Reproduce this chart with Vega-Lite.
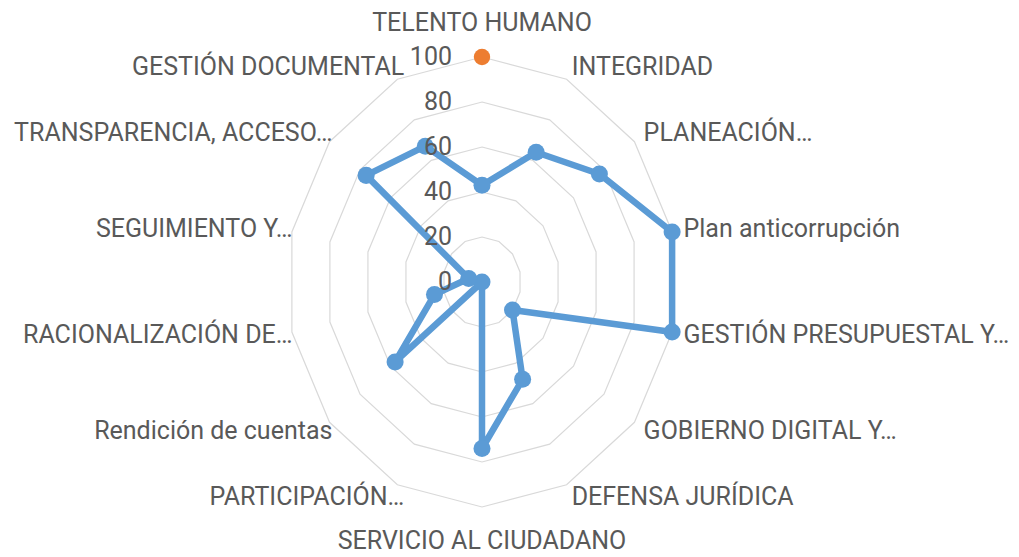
{
  "$schema": "https://vega.github.io/schema/vega-lite/v6.json",
  "width": 390,
  "height": 450,
  "autosize": {"type": "none"},
  "padding": {"left": 287, "top": 57, "right": 342, "bottom": 50},
  "background": "white",
  "config": {"view": {"stroke": null}},
  "datasets": {
    "puntajes": [
      {"eje": "TELENTO HUMANO", "valor": 43},
      {"eje": "INTEGRIDAD", "valor": 64},
      {"eje": "PLANEACIÓN…", "valor": 77},
      {"eje": "Plan anticorrupción", "valor": 100},
      {"eje": "GESTIÓN PRESUPUESTAL Y…", "valor": 100},
      {"eje": "GOBIERNO DIGITAL Y…", "valor": 20},
      {"eje": "DEFENSA JURÍDICA", "valor": 48},
      {"eje": "SERVICIO AL CIUDADANO", "valor": 74},
      {"eje": "PARTICIPACIÓN…", "valor": 0},
      {"eje": "Rendición de cuentas", "valor": 57},
      {"eje": "RACIONALIZACIÓN DE…", "valor": 25},
      {"eje": "SEGUIMIENTO Y…", "valor": 7},
      {"eje": "TRANSPARENCIA, ACCESO…", "valor": 76},
      {"eje": "GESTIÓN DOCUMENTAL", "valor": 67}
    ],
    "meta": [
      {"eje": "TELENTO HUMANO", "valor": 100}
    ],
    "rejilla": [
      {"eje": "TELENTO HUMANO", "niveles": [20, 40, 60, 80, 100]},
      {"eje": "INTEGRIDAD", "niveles": [20, 40, 60, 80, 100]},
      {"eje": "PLANEACIÓN…", "niveles": [20, 40, 60, 80, 100]},
      {"eje": "Plan anticorrupción", "niveles": [20, 40, 60, 80, 100]},
      {"eje": "GESTIÓN PRESUPUESTAL Y…", "niveles": [20, 40, 60, 80, 100]},
      {"eje": "GOBIERNO DIGITAL Y…", "niveles": [20, 40, 60, 80, 100]},
      {"eje": "DEFENSA JURÍDICA", "niveles": [20, 40, 60, 80, 100]},
      {"eje": "SERVICIO AL CIUDADANO", "niveles": [20, 40, 60, 80, 100]},
      {"eje": "PARTICIPACIÓN…", "niveles": [20, 40, 60, 80, 100]},
      {"eje": "Rendición de cuentas", "niveles": [20, 40, 60, 80, 100]},
      {"eje": "RACIONALIZACIÓN DE…", "niveles": [20, 40, 60, 80, 100]},
      {"eje": "SEGUIMIENTO Y…", "niveles": [20, 40, 60, 80, 100]},
      {"eje": "TRANSPARENCIA, ACCESO…", "niveles": [20, 40, 60, 80, 100]},
      {"eje": "GESTIÓN DOCUMENTAL", "niveles": [20, 40, 60, 80, 100]}
    ],
    "escala": [
      {"v": 0}, {"v": 20}, {"v": 40}, {"v": 60}, {"v": 80}, {"v": 100}
    ]
  },
  "layer": [
    {
      "data": {"name": "rejilla"},
      "transform": [
        {"window": [{"op": "row_number", "as": "n"}]},
        {"flatten": ["niveles"], "as": ["nivel"]},
        {"calculate": "2*PI*(datum.n-1)/14", "as": "ang"},
        {"calculate": "datum.nivel*sin(datum.ang)", "as": "px"},
        {"calculate": "datum.nivel*cos(datum.ang)", "as": "py"}
      ],
      "mark": {"type": "line", "interpolate": "linear-closed", "color": "#d9d9d9", "strokeWidth": 1.2},
      "encoding": {
        "x": {"field": "px", "type": "quantitative", "scale": {"domain": [-100, 100], "nice": false, "zero": false}, "axis": null},
        "y": {"field": "py", "type": "quantitative", "scale": {"domain": [-100, 100], "nice": false, "zero": false}, "axis": null},
        "detail": {"field": "nivel", "type": "nominal"},
        "order": {"field": "n", "type": "quantitative"}
      }
    },
    {
      "data": {"name": "puntajes"},
      "transform": [
        {"window": [{"op": "row_number", "as": "n"}]},
        {"calculate": "2*PI*(datum.n-1)/14", "as": "ang"},
        {"calculate": "datum.valor*sin(datum.ang)", "as": "px"},
        {"calculate": "datum.valor*cos(datum.ang)", "as": "py"}
      ],
      "layer": [
        {
          "mark": {"type": "line", "interpolate": "linear-closed", "color": "#5B9BD5", "strokeWidth": 6.5, "strokeJoin": "round"},
          "encoding": {
            "x": {"field": "px", "type": "quantitative"},
            "y": {"field": "py", "type": "quantitative"},
            "order": {"field": "n", "type": "quantitative"}
          }
        },
        {
          "mark": {"type": "circle", "color": "#5B9BD5", "size": 290, "opacity": 1},
          "encoding": {
            "x": {"field": "px", "type": "quantitative"},
            "y": {"field": "py", "type": "quantitative"}
          }
        }
      ]
    },
    {
      "data": {"name": "meta"},
      "transform": [
        {"window": [{"op": "row_number", "as": "n"}]},
        {"calculate": "2*PI*(datum.n-1)/14", "as": "ang"},
        {"calculate": "datum.valor*sin(datum.ang)", "as": "px"},
        {"calculate": "datum.valor*cos(datum.ang)", "as": "py"}
      ],
      "mark": {"type": "circle", "color": "#ED7D31", "size": 270, "opacity": 1},
      "encoding": {
        "x": {"field": "px", "type": "quantitative"},
        "y": {"field": "py", "type": "quantitative"}
      }
    },
    {
      "data": {"name": "escala"},
      "mark": {"type": "text", "align": "right", "baseline": "middle", "dx": -30, "font": "Roboto", "fontSize": 25, "color": "#595959"},
      "encoding": {
        "x": {"datum": 0, "type": "quantitative"},
        "y": {"field": "v", "type": "quantitative"},
        "text": {"field": "v", "type": "quantitative"}
      }
    },
    {
      "data": {"name": "puntajes"},
      "transform": [
        {"window": [{"op": "row_number", "as": "n"}]},
        {"calculate": "2*PI*(datum.n-1)/14", "as": "ang"},
        {"calculate": "(datum.n==1 || datum.n==8) ? 115 : 106", "as": "lr"},
        {"calculate": "datum.lr*sin(datum.ang)", "as": "px"},
        {"calculate": "datum.lr*cos(datum.ang)", "as": "py"}
      ],
      "layer": [
        {
          "transform": [{"filter": "datum.n==1 || datum.n==8"}],
          "mark": {"type": "text", "align": "center", "baseline": "middle", "font": "Roboto", "fontSize": 25, "color": "#595959"},
          "encoding": {
            "x": {"field": "px", "type": "quantitative"},
            "y": {"field": "py", "type": "quantitative"},
            "text": {"field": "eje", "type": "nominal"}
          }
        },
        {
          "transform": [{"filter": "datum.n>=2 && datum.n<=7"}],
          "mark": {"type": "text", "align": "left", "baseline": "middle", "font": "Roboto", "fontSize": 25, "color": "#595959"},
          "encoding": {
            "x": {"field": "px", "type": "quantitative"},
            "y": {"field": "py", "type": "quantitative"},
            "text": {"field": "eje", "type": "nominal"}
          }
        },
        {
          "transform": [{"filter": "datum.n>=9"}],
          "mark": {"type": "text", "align": "right", "baseline": "middle", "dx": 12, "font": "Roboto", "fontSize": 25, "color": "#595959"},
          "encoding": {
            "x": {"field": "px", "type": "quantitative"},
            "y": {"field": "py", "type": "quantitative"},
            "text": {"field": "eje", "type": "nominal"}
          }
        }
      ]
    }
  ]
}
